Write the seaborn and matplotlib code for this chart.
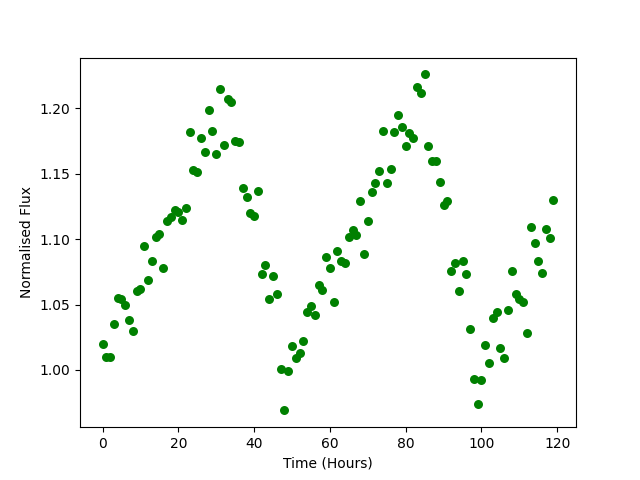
import matplotlib
matplotlib.use("Agg")
import matplotlib.pyplot as plt
import seaborn as sns
import numpy as np

# hourly normalised flux readings
hours = list(range(120))
flux = [
    1.020, 1.010, 1.010, 1.035, 1.055, 1.054, 1.050, 1.038, 1.030, 1.060,
    1.062, 1.095, 1.069, 1.083, 1.102, 1.104, 1.078, 1.114, 1.117, 1.122,
    1.121, 1.115, 1.124, 1.182, 1.153, 1.151, 1.177, 1.167, 1.199, 1.183,
    1.165, 1.215, 1.172, 1.207, 1.205, 1.175, 1.174, 1.139, 1.132, 1.120,
    1.118, 1.137, 1.073, 1.080, 1.054, 1.072, 1.058, 1.001, 0.969, 0.999,
    1.018, 1.009, 1.013, 1.022, 1.044, 1.049, 1.042, 1.065, 1.061, 1.086,
    1.078, 1.052, 1.091, 1.083, 1.082, 1.102, 1.107, 1.103, 1.129, 1.089,
    1.114, 1.136, 1.143, 1.152, 1.183, 1.143, 1.154, 1.182, 1.195, 1.186,
    1.171, 1.181, 1.177, 1.216, 1.212, 1.226, 1.171, 1.160, 1.160, 1.144,
    1.126, 1.129, 1.076, 1.082, 1.060, 1.083, 1.073, 1.031, 0.993, 0.974,
    0.992, 1.019, 1.005, 1.040, 1.044, 1.017, 1.009, 1.046, 1.076, 1.058,
    1.054, 1.052, 1.028, 1.109, 1.097, 1.083, 1.074, 1.108, 1.101, 1.130,
]

fig, ax = plt.subplots(figsize=(6.4, 4.8), dpi=100)
sns.scatterplot(x=hours, y=flux, color="green", s=42, linewidth=0, ax=ax)
ax.set_xlabel("Time (Hours)")
ax.set_ylabel("Normalised Flux")
fig.savefig("out.png", dpi=100)
